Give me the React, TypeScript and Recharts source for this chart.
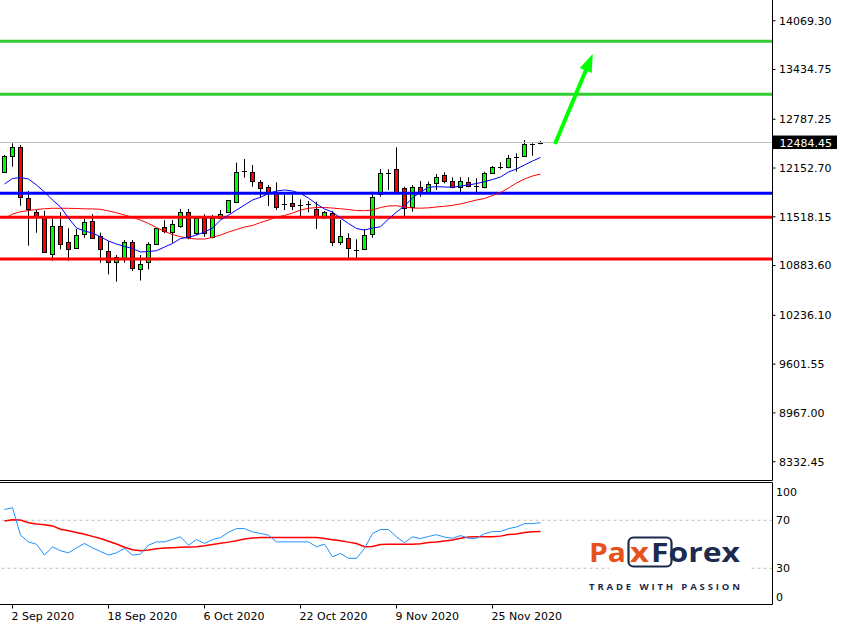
import React from 'react';
import { ComposedChart, Bar, Line, XAxis, YAxis, ReferenceLine } from 'recharts';

const dates = [
  '1 Sep 2020', '2 Sep 2020', '3 Sep 2020', '4 Sep 2020', '7 Sep 2020', '8 Sep 2020', '9 Sep 2020', '10 Sep 2020', '11 Sep 2020', '14 Sep 2020',
  '15 Sep 2020', '16 Sep 2020', '17 Sep 2020', '18 Sep 2020', '21 Sep 2020', '22 Sep 2020', '23 Sep 2020', '24 Sep 2020', '25 Sep 2020', '28 Sep 2020',
  '29 Sep 2020', '30 Sep 2020', '1 Oct 2020', '2 Oct 2020', '5 Oct 2020', '6 Oct 2020', '7 Oct 2020', '8 Oct 2020', '9 Oct 2020', '12 Oct 2020',
  '13 Oct 2020', '14 Oct 2020', '15 Oct 2020', '16 Oct 2020', '19 Oct 2020', '20 Oct 2020', '21 Oct 2020', '22 Oct 2020', '23 Oct 2020', '26 Oct 2020',
  '27 Oct 2020', '28 Oct 2020', '29 Oct 2020', '30 Oct 2020', '2 Nov 2020', '3 Nov 2020', '4 Nov 2020', '5 Nov 2020', '6 Nov 2020', '9 Nov 2020',
  '10 Nov 2020', '11 Nov 2020', '12 Nov 2020', '13 Nov 2020', '16 Nov 2020', '17 Nov 2020', '18 Nov 2020', '19 Nov 2020', '20 Nov 2020', '23 Nov 2020',
  '24 Nov 2020', '25 Nov 2020', '26 Nov 2020', '27 Nov 2020', '30 Nov 2020', '1 Dec 2020', '2 Dec 2020', '3 Dec 2020',
];

const opens = [
  12107, 12313, 12422, 11759, 11577, 11519, 11030, 11402, 11186, 11108,
  11290, 11463, 11268, 11077, 10934, 10986, 11186, 10835, 10926, 11160,
  11381, 11324, 11402, 11584, 11303, 11498, 11259, 11498, 11577, 11715,
  12108, 12097, 11967, 11910, 11837, 11685, 11694, 11672, 11685, 11616,
  11512, 11564, 11194, 11238, 11086, 11095, 11290, 11811, 12092, 12136,
  11889, 11649, 11902, 11845, 11954, 12062, 11984, 11902, 11975, 11923,
  11910, 12092, 12170, 12162, 12300, 12313, 12461, 12484.45,
];
const highs = [
  12322, 12474, 12452, 11854, 11606, 11594, 11489, 11577, 11368, 11359,
  11489, 11554, 11311, 11203, 11021, 11216, 11216, 11021, 11186, 11376,
  11472, 11476, 11620, 11620, 11519, 11551, 11541, 11606, 11737, 12222,
  12270, 12192, 11997, 11932, 11967, 11802, 11802, 11746, 11724, 11715,
  11594, 11594, 11476, 11303, 11225, 11359, 11845, 12140, 12136, 12422,
  11910, 11932, 11984, 11975, 12075, 12097, 12032, 12032, 12032, 12019,
  12105, 12179, 12227, 12322, 12344, 12517, 12474, 12505,
];
const lows = [
  12094, 12170, 11662, 11142, 11311, 11047, 10947, 11095, 10947, 11099,
  11246, 11236, 10921, 10770, 10674, 10921, 10813, 10689, 10835, 11160,
  11303, 11181, 11376, 11225, 11281, 11259, 11238, 11498, 11577, 11711,
  12027, 11910, 11772, 11659, 11606, 11606, 11606, 11528, 11577, 11359,
  11489, 11138, 11151, 10956, 10956, 11095, 11246, 11780, 11867, 11837,
  11519, 11584, 11780, 11824, 11867, 11954, 11889, 11815, 11902, 11824,
  11889, 12084, 12136, 12149, 12105, 12313, 12313, 12461,
];
const closes = [
  12309, 12422, 11780, 11620, 11512, 11064, 11402, 11160, 11095, 11281,
  11446, 11246, 11095, 10934, 10991, 11186, 10848, 10900, 11160, 11368,
  11333, 11420, 11584, 11259, 11506, 11303, 11498, 11558, 11733, 12097,
  12108, 11988, 11897, 11837, 11649, 11685, 11662, 11672, 11685, 11512,
  11577, 11194, 11268, 11108, 11086, 11281, 11772, 12084, 12092, 11837,
  11629, 11910, 11832, 11941, 12032, 11988, 11902, 11988, 11919, 11923,
  12084, 12162, 12170, 12279, 12300, 12461, 12461, 12484.45,
];
const maFast = [
  11945, 12016, 12029, 12010, 11932, 11841, 11737, 11646, 11502, 11372,
  11333, 11307, 11259, 11203, 11164, 11132, 11106, 11060, 11067, 11077,
  11125, 11171, 11236, 11251, 11281, 11320, 11372, 11476, 11541, 11606,
  11672, 11737, 11772, 11821, 11854, 11867, 11854, 11821, 11763, 11685,
  11620, 11580, 11502, 11431, 11366, 11346, 11372, 11389, 11489, 11580,
  11659, 11763, 11841, 11902, 11910, 11906, 11902, 11919, 11932, 11951,
  11975, 12003, 12036, 12101, 12140, 12192, 12244, 12290,
];
const maSlow = [
  11496, 11554, 11584, 11600, 11613, 11623, 11629, 11629, 11629, 11626,
  11622, 11620, 11616, 11594, 11571, 11541, 11512, 11476, 11431, 11379,
  11327, 11288, 11259, 11238, 11229, 11229, 11251, 11281, 11320, 11353,
  11385, 11405, 11444, 11476, 11515, 11535, 11567, 11606, 11629, 11639,
  11639, 11632, 11623, 11613, 11600, 11597, 11606, 11639, 11659, 11662,
  11646, 11632, 11630, 11635, 11646, 11655, 11668, 11685, 11711, 11737,
  11756, 11795, 11834, 11893, 11958, 12010, 12049, 12075,
];
const rsi = [
  79, 80.5, 57.6, 52, 50, 41, 47.9, 44.6, 42.9, 47,
  50.7, 47, 44, 41, 42.9, 46.5, 41, 41.8, 49.3, 52,
  52, 54, 56.2, 49.3, 54, 50.7, 54, 55.6, 60, 63.1,
  63.1, 60.3, 59, 57.6, 52, 52, 52, 52, 52, 47.9,
  50.1, 39.6, 42.4, 38.3, 38.3, 46.5, 59, 62.3, 62.3, 56.2,
  51.3, 56.2, 54.8, 56.5, 58, 56, 55, 57.3, 55, 55,
  58.8, 60.6, 60.6, 63.1, 64.4, 67.2, 67.2, 68.1,
];
const rsiSignal = [
  69.5, 70.5, 70.2, 68, 67, 66.2, 65.3, 62.5, 61.2, 59.8,
  58.4, 56.6, 54.8, 52.5, 50.2, 47.5, 45.5, 44.6, 45.2, 46.2,
  46.8, 47.2, 47.5, 47.7, 47.9, 48.8, 49.9, 50.8, 51.8, 53,
  54.4, 55.2, 55.6, 55.6, 55.6, 55.6, 55.6, 55.6, 55.6, 55.6,
  54.8, 53.8, 52.9, 51.8, 50.7, 47.9, 48.2, 49.8, 50.1, 50.1,
  50.1, 50.1, 50.5, 51.5, 52, 52.8, 53.5, 55, 56, 56.2,
  56.2, 56.2, 56.8, 58.1, 58.6, 59.8, 60.4, 60.6,
];

const priceTicks = [14069.3, 13434.75, 12787.25, 12152.7, 11518.15, 10883.6, 10236.1, 9601.55, 8967.0, 8332.45];
const rsiTicks = [0, 30, 70, 100];
const rsiLevels = [70, 30];
const dateTickLabels = ['2 Sep 2020', '18 Sep 2020', '6 Oct 2020', '22 Oct 2020', '9 Nov 2020', '25 Nov 2020'];
const lastPrice = 12484.45;
const greenLevels = [13801, 13112];
const blueLevels = [11824];
const redLevels = [11512, 10969];
const arrowStart = { i: 68.81, price: 12465 };
const arrowEnd = { i: 73.53, price: 13636 };

const X_DOMAIN: [number, number] = [-0.5625, 96];
const PRICE_DOMAIN: [number, number] = [8087.8, 14338.6];
const RSI_DOMAIN: [number, number] = [-0.2, 101.5];
const FONT = '"DejaVu Sans", Verdana, sans-serif';

const data = dates.map((d, i) => ({
  i,
  date: d,
  o: opens[i],
  h: highs[i],
  l: lows[i],
  c: closes[i],
  maFast: maFast[i],
  maSlow: maSlow[i],
  rsi: rsi[i],
  sig: rsiSignal[i],
}));

const dateTicks = dateTickLabels.map((lab) => dates.indexOf(lab));

const snap = (v: number) => Math.round(v) + 0.5;

const Candle = (props: any) => {
  const { x, y, width, height, payload } = props;
  if (x == null || y == null || !payload) return null;
  const { o, h, l, c } = payload;
  const top = Math.min(y, y + height);
  const bot = Math.max(y, y + height);
  const k = h === l ? 0 : (bot - top) / (h - l);
  const py = (p: number) => top + (h - p) * k;
  const cx = Math.floor(x + width / 2) + 0.5;
  const yO = py(o);
  const yC = py(c);
  const wick = <line x1={cx} x2={cx} y1={py(h)} y2={py(l)} stroke="#000" strokeWidth={1} />;
  if (o === c) {
    const yy = snap(yO);
    return (
      <g>
        {wick}
        <line x1={cx - 2.5} x2={cx + 2.5} y1={yy} y2={yy} stroke="#000" strokeWidth={1} />
      </g>
    );
  }
  const y1 = snap(Math.min(yO, yC));
  const y2 = snap(Math.max(yO, yC));
  return (
    <g>
      {wick}
      <rect
        x={cx - 2}
        y={y1}
        width={4}
        height={Math.max(1, y2 - y1)}
        fill={c > o ? '#00FF00' : '#FF0000'}
        stroke="#000"
        strokeWidth={1}
      />
    </g>
  );
};

const Arrow = (props: any) => {
  const { x1, y1, x2, y2 } = props;
  if (x1 == null) return null;
  const dx = x2 - x1;
  const dy = y2 - y1;
  const len = Math.sqrt(dx * dx + dy * dy) || 1;
  const ux = dx / len;
  const uy = dy / len;
  const headLen = 18;
  const half = 6.5;
  const bx = x2 - ux * headLen;
  const by = y2 - uy * headLen;
  const px = -uy;
  const py = ux;
  const pts = `${x2},${y2} ${bx + px * half},${by + py * half} ${bx - px * half},${by - py * half}`;
  return (
    <g>
      <line x1={x1} y1={y1} x2={bx + ux * 3} y2={by + uy * 3} stroke="#00FF00" strokeWidth={4} />
      <polygon points={pts} fill="#00FF00" />
    </g>
  );
};

const PriceTag = (props: any) => {
  const vb = props.viewBox || {};
  const xr = (vb.x || 0) + (vb.width || 0);
  const yy = vb.y || 0;
  return (
    <g>
      <rect x={xr + 0.5} y={yy - 7} width={64} height={13.5} fill="#000" />
      <text x={xr + 7} y={yy} dy={4} fill="#fff" fontSize={11} fontFamily={FONT} textAnchor="start">
        {lastPrice.toFixed(2)}
      </text>
    </g>
  );
};

const RsiTick = (props: any) => {
  const { x, y, payload } = props;
  const v = payload.value;
  const shift = v === 100 ? 7.4 : v === 0 ? -7.5 : 0;
  return (
    <text x={x} y={y + shift} dy={4} fill="#000" fontSize={11} fontFamily={FONT} textAnchor="start">
      {String(v)}
    </text>
  );
};

const DateTick = (props: any) => {
  const { x, y, payload } = props;
  return (
    <text x={x - 1} y={y} dy={9.5} fill="#000" fontSize={11} fontFamily={FONT} textAnchor="start">
      {dates[payload.value]}
    </text>
  );
};

const NAVY = '#1C2A4D';
const ORANGE = '#E8511E';

const Logo = () => (
  <svg width={843} height={623} style={{ position: 'absolute', left: 0, top: 0, pointerEvents: 'none' }}>
    <rect x={609} y={534} width={140} height={60} fill="#fff" />
    <text x={589} y={562} fontSize={27} fontWeight={700} fontFamily='"Open Sans", sans-serif' fill={ORANGE} textLength={37} lengthAdjust="spacingAndGlyphs">
      Pa
    </text>
    <rect x={628.5} y={537.5} width={43} height={29} rx={5} fill="none" stroke={NAVY} strokeWidth={2.2} />
    <text x={630} y={562} fontSize={27} fontWeight={700} fontFamily='"Open Sans", sans-serif' fill={ORANGE} textLength={19} lengthAdjust="spacingAndGlyphs">
      x
    </text>
    <text x={651} y={562} fontSize={27} fontWeight={700} fontFamily='"Open Sans", sans-serif' fill={NAVY} textLength={89} lengthAdjust="spacingAndGlyphs">
      Forex
    </text>
    <text x={589} y={590} fontSize={9.5} fontWeight={700} fontFamily='"Open Sans", sans-serif' fill={NAVY} textLength={151} lengthAdjust="spacing">
      TRADE WITH PASSION
    </text>
  </svg>
);

export default function App() {
  return (
    <div style={{ position: 'absolute', left: 0, top: 0, width: 843, height: 623, background: '#fff', overflow: 'hidden' }}>
      <div style={{ position: 'absolute', left: 0, top: 0 }}>
        <ComposedChart width={843} height={481} data={data} margin={{ top: 0, right: 0, left: 0, bottom: 0.5 }}>
          <XAxis type="number" dataKey="i" domain={X_DOMAIN} allowDataOverflow hide />
          <YAxis
            orientation="right"
            width={70.5}
            domain={PRICE_DOMAIN}
            allowDataOverflow
            ticks={priceTicks}
            interval={0}
            tickSize={3}
            tickMargin={3.5}
            tickFormatter={(v: number) => v.toFixed(2)}
            tick={{ fill: '#000', fontSize: 11, fontFamily: FONT }}
            axisLine={{ stroke: '#000' }}
            tickLine={{ stroke: '#000' }}
          />
          <ReferenceLine y={PRICE_DOMAIN[0]} stroke="#000" strokeWidth={1} />
          {greenLevels.map((v) => (
            <ReferenceLine key={'g' + v} y={v} stroke="#32CD32" strokeWidth={3} />
          ))}
          {blueLevels.map((v) => (
            <ReferenceLine key={'b' + v} y={v} stroke="#0000FF" strokeWidth={3} />
          ))}
          {redLevels.map((v) => (
            <ReferenceLine key={'r' + v} y={v} stroke="#FF0000" strokeWidth={3} />
          ))}
          <ReferenceLine y={lastPrice} stroke="#C0C0C0" strokeWidth={1} label={<PriceTag />} />
          <Bar dataKey={(d: any) => [d.l, d.h]} barSize={6} shape={Candle} isAnimationActive={false} />
          <Line type="linear" dataKey="maSlow" stroke="#FF0000" strokeWidth={1} dot={false} activeDot={false} isAnimationActive={false} />
          <Line type="linear" dataKey="maFast" stroke="#0000FF" strokeWidth={1} dot={false} activeDot={false} isAnimationActive={false} />
          <ReferenceLine
            segment={[
              { x: arrowStart.i, y: arrowStart.price },
              { x: arrowEnd.i, y: arrowEnd.price },
            ]}
            shape={Arrow}
          />
        </ComposedChart>
      </div>
      <div style={{ position: 'absolute', left: 0, top: 481 }}>
        <ComposedChart width={843} height={142} data={data} margin={{ top: 1.5, right: 0, left: 0, bottom: 0 }}>
          <XAxis
            type="number"
            dataKey="i"
            domain={X_DOMAIN}
            allowDataOverflow
            ticks={dateTicks}
            interval={0}
            height={18.5}
            tickSize={4}
            tickMargin={2}
            tick={<DateTick />}
            axisLine={{ stroke: '#000' }}
            tickLine={{ stroke: '#000' }}
          />
          <YAxis
            orientation="right"
            width={70.5}
            domain={RSI_DOMAIN}
            allowDataOverflow
            ticks={rsiTicks}
            interval={0}
            tickSize={0}
            tickMargin={3.5}
            tick={<RsiTick />}
            axisLine={{ stroke: '#000' }}
            tickLine={false}
          />
          <ReferenceLine y={RSI_DOMAIN[1]} stroke="#000" strokeWidth={1} />
          {rsiLevels.map((v) => (
            <ReferenceLine key={'l' + v} y={v} stroke="#C0C0C0" strokeDasharray="3 3" strokeWidth={1} />
          ))}
          <Line type="linear" dataKey="sig" stroke="#FF0000" strokeWidth={1.5} dot={false} activeDot={false} isAnimationActive={false} />
          <Line type="linear" dataKey="rsi" stroke="#1E90FF" strokeWidth={1} dot={false} activeDot={false} isAnimationActive={false} />
        </ComposedChart>
      </div>
      <Logo />
    </div>
  );
}
